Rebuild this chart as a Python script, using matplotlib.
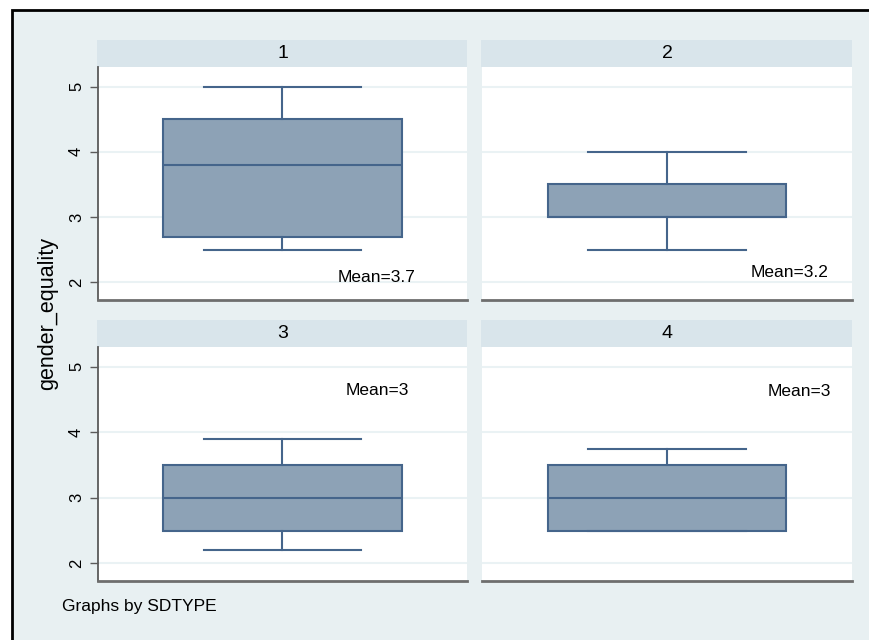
import matplotlib
matplotlib.use("Agg")
import matplotlib.pyplot as plt
from matplotlib.patches import Rectangle

plt.rcParams["font.family"] = ["Liberation Sans", "DejaVu Sans"]

# gender_equality by SDTYPE
groups = ["1", "2", "3", "4"]
q1 = [2.7, 3.0, 2.5, 2.5]
median = [3.8, 3.0, 3.0, 3.0]
q3 = [4.5, 3.5, 3.5, 3.5]
whis_lo = [2.5, 2.5, 2.2, 2.5]
whis_hi = [5.0, 4.0, 3.9, 3.75]
means = [3.7, 3.2, 3, 3]
yticks = [2, 3, 4, 5]

BG = "#E8F0F2"
STRIP = "#D9E5EB"
FILL = "#8DA2B6"
EDGE = "#45658B"
GRID = "#EAF2F4"

W, H = 870, 640
fig = plt.figure(figsize=(W / 100, H / 100), dpi=100, facecolor="white")

def fx(px):
    return px / W

def fy(py):
    return 1 - py / H

# outer graph region with black frame
fig.patches.append(Rectangle((fx(12.5), -0.1), 1.2, fy(9.5) + 0.1,
                             transform=fig.transFigure, facecolor=BG,
                             edgecolor="black", linewidth=2, zorder=-2))

cols = [(98, 467), (482, 852)]
rows = [(67, 300), (347, 581)]
strip_h = 27
# mean label positions (axes x, data y)
mean_pos = [(0.756, 2.0), (0.83, 2.08), (0.757, 4.57), (0.858, 4.55)]

for i, g in enumerate(groups):
    r, c = divmod(i, 2)
    x0, x1 = cols[c]
    y0, y1 = rows[r]
    ax = fig.add_axes([fx(x0), fy(y1), fx(x1) - fx(x0), fy(y0) - fy(y1)])
    ax.set_facecolor("white")

    # header strip
    fig.patches.append(Rectangle((fx(x0 - 1), fy(y0)), fx(x1) - fx(x0 - 1),
                                 fy(y0 - strip_h) - fy(y0),
                                 transform=fig.transFigure, facecolor=STRIP,
                                 edgecolor="none", zorder=-1))
    fig.text(fx((x0 + x1) / 2), fy(y0 - strip_h / 2), g, ha="center",
             va="center", fontsize=14)

    stats = [dict(med=median[i], q1=q1[i], q3=q3[i],
                  whislo=whis_lo[i], whishi=whis_hi[i], fliers=[])]
    ax.bxp(stats, positions=[0.5], widths=[0.645], capwidths=[0.425],
           patch_artist=True, showfliers=False,
           boxprops=dict(facecolor=FILL, edgecolor=EDGE, linewidth=1.5),
           whiskerprops=dict(color=EDGE, linewidth=1.5),
           capprops=dict(color=EDGE, linewidth=1.5),
           medianprops=dict(color=EDGE, linewidth=1.5))

    ax.set_xlim(0, 1)
    ax.set_ylim(1.73, 5.3)
    ax.set_yticks(yticks)
    ax.set_xticks([])
    ax.yaxis.grid(True, color=GRID, linewidth=1.5)
    ax.set_axisbelow(True)
    for s in ["top", "right"]:
        ax.spines[s].set_visible(False)
    ax.spines["bottom"].set_color("#6E6E6E")
    ax.spines["bottom"].set_linewidth(2)
    if c == 0:
        ax.spines["left"].set_color("#5A5A5A")
        ax.spines["left"].set_linewidth(1.3)
        ax.tick_params(axis="y", length=6, width=1, color="#5A5A5A",
                       labelsize=12, pad=4, labelrotation=90)
        for lab in ax.get_yticklabels():
            lab.set_va("center")
    else:
        ax.spines["left"].set_visible(False)
        ax.tick_params(axis="y", left=False, labelleft=False)

    mx, my = mean_pos[i]
    ax.text(mx, my, f"Mean={means[i]:g}", transform=ax.get_yaxis_transform(),
            ha="center", va="baseline", fontsize=12.5)

fig.text(fx(48), fy(313), "gender_equality", rotation=90, ha="center",
         va="center", fontsize=15.5)
fig.text(fx(62), fy(606), "Graphs by SDTYPE", ha="left", va="center",
         fontsize=12.5)

fig.savefig("out.png", dpi=100, facecolor="white")
